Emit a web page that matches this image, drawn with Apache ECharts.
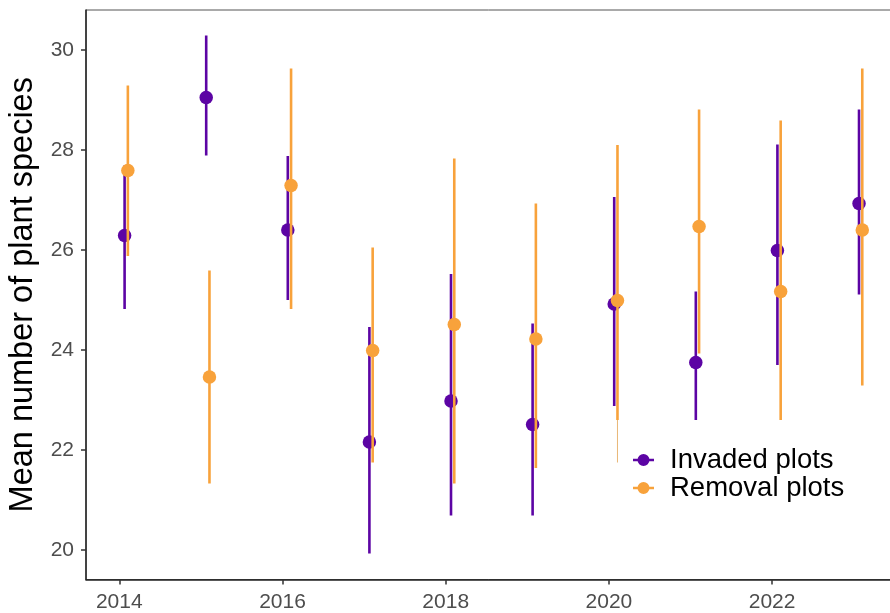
<!DOCTYPE html>
<html>
<head>
<meta charset="utf-8">
<script src="https://cdn.jsdelivr.net/npm/echarts@6/dist/echarts.min.js"></script>
<style>
html,body{margin:0;padding:0;background:#fff;}
#chart{width:890px;height:613px;}
</style>
</head>
<body>
<div id="chart"></div>
<script>
var years = [2014, 2015, 2016, 2017, 2018, 2019, 2020, 2021, 2022, 2023];
var invadedMean = [26.29, 29.05, 26.40, 22.16, 22.98, 22.51, 24.92, 23.75, 25.99, 26.93];
var invadedLow  = [24.82, 27.89, 25.00, 19.93, 20.69, 20.69, 22.88, 22.60, 23.70, 25.11];
var invadedHigh = [27.69, 30.29, 27.88, 24.46, 25.52, 24.53, 27.06, 25.17, 28.11, 28.81];
var removalMean = [27.59, 23.46, 27.29, 23.99, 24.51, 24.22, 24.99, 26.47, 25.17, 26.40];
var removalLow  = [25.88, 21.33, 24.82, 21.75, 21.33, 21.64, 22.60, 23.93, 22.60, 23.29];
var removalHigh = [29.29, 25.59, 29.63, 26.05, 27.83, 26.93, 28.10, 28.81, 28.59, 29.63];
// faint thin whisker tail seen below the 2020 removal bar
var removalTailYear = [2020];
var removalTailLow = [21.75];
var removalTailHigh = [22.60];
var xTicks = [2014, 2016, 2018, 2020, 2022];
var yTicks = [20, 22, 24, 26, 28, 30];
var seriesNames = ['Invaded plots', 'Removal plots'];

var invadedDodge = 0.065, removalDodge = 0.105;
var purple = '#5C04A4', orange = '#F8A23B';
var FONT = '"Liberation Sans", Arial, sans-serif';

function pts(xs, off, ys) { return xs.map(function (x, i) { return [x + off, ys[i]]; }); }
function bars(xs, off, lo, hi) { return xs.map(function (x, i) { return [x + off, lo[i], hi[i]]; }); }
function barRenderer(color, width) {
  return function (params, api) {
    var p1 = api.coord([api.value(0), api.value(1)]);
    var p2 = api.coord([api.value(0), api.value(2)]);
    return { type: 'line', shape: { x1: p1[0], y1: p1[1], x2: p2[0], y2: p2[1] },
             style: { stroke: color, lineWidth: width } };
  };
}
var iconPath = 'path://M0,4.75 L21,4.75 L21,7.25 L0,7.25 Z M4.5,6 A6,6 0 1,1 16.5,6 A6,6 0 1,1 4.5,6 Z';

var chart = echarts.init(document.getElementById('chart'), null, { renderer: 'canvas' });
chart.setOption({
  animation: false,
  backgroundColor: '#fff',
  grid: { left: 86, top: 10, right: -5, bottom: 33.5, outerBoundsMode: 'none', containLabel: false,
          show: true, borderColor: '#555', borderWidth: 1, backgroundColor: 'transparent' },
  xAxis: {
    type: 'value', min: 2013.592, max: 2023.506,
    splitLine: { show: false },
    axisLine: { show: true, lineStyle: { color: '#222', width: 1.5 } },
    axisTick: { show: true, length: 5, lineStyle: { color: '#333', width: 1.5 }, customValues: xTicks },
    axisLabel: { customValues: xTicks, fontSize: 21, color: '#4D4D4D', fontFamily: FONT, margin: 12, formatter: function (v) { return String(v); } }
  },
  yAxis: {
    type: 'value', min: 19.41, max: 30.8,
    name: 'Mean number of plant species', nameLocation: 'middle', nameRotate: 90, nameGap: 45,
    nameTextStyle: { fontSize: 32.5, color: '#000', fontFamily: FONT },
    splitLine: { show: false },
    axisLine: { show: true, lineStyle: { color: '#222', width: 1.5 } },
    axisTick: { show: true, length: 5, lineStyle: { color: '#333', width: 1.5 }, customValues: yTicks },
    axisLabel: { customValues: yTicks, fontSize: 21, color: '#4D4D4D', fontFamily: FONT, margin: 12, formatter: function (v) { return String(v); } }
  },
  legend: {
    orient: 'vertical', left: 628, top: 441, itemGap: 0, padding: 5,
    itemWidth: 21, itemHeight: 12, symbolKeepAspect: true,
    textStyle: { fontSize: 27.5, color: '#000', fontFamily: FONT, lineHeight: 26, padding: [0, 0, 0, 11] },
    data: [
      { name: seriesNames[0], icon: iconPath, itemStyle: { color: purple } },
      { name: seriesNames[1], icon: iconPath, itemStyle: { color: orange } }
    ]
  },
  series: [
    { name: seriesNames[0], type: 'custom', renderItem: barRenderer(purple, 2.6), data: bars(years, invadedDodge, invadedLow, invadedHigh), z: 2, encode: { x: 0, y: [1, 2] } },
    { name: seriesNames[0], type: 'scatter', symbol: 'circle', symbolSize: 13.5, itemStyle: { color: purple, opacity: 1 }, data: pts(years, invadedDodge, invadedMean), z: 3 },
    { name: seriesNames[1], type: 'custom', renderItem: barRenderer('#E9B877', 1), data: bars(removalTailYear, removalDodge, removalTailLow, removalTailHigh), z: 4, encode: { x: 0, y: [1, 2] } },
    { name: seriesNames[1], type: 'custom', renderItem: barRenderer(orange, 2.6), data: bars(years, removalDodge, removalLow, removalHigh), z: 4, encode: { x: 0, y: [1, 2] } },
    { name: seriesNames[1], type: 'scatter', symbol: 'circle', symbolSize: 13.5, itemStyle: { color: orange, opacity: 1 }, data: pts(years, removalDodge, removalMean), z: 5 }
  ]
});
</script>
</body>
</html>
